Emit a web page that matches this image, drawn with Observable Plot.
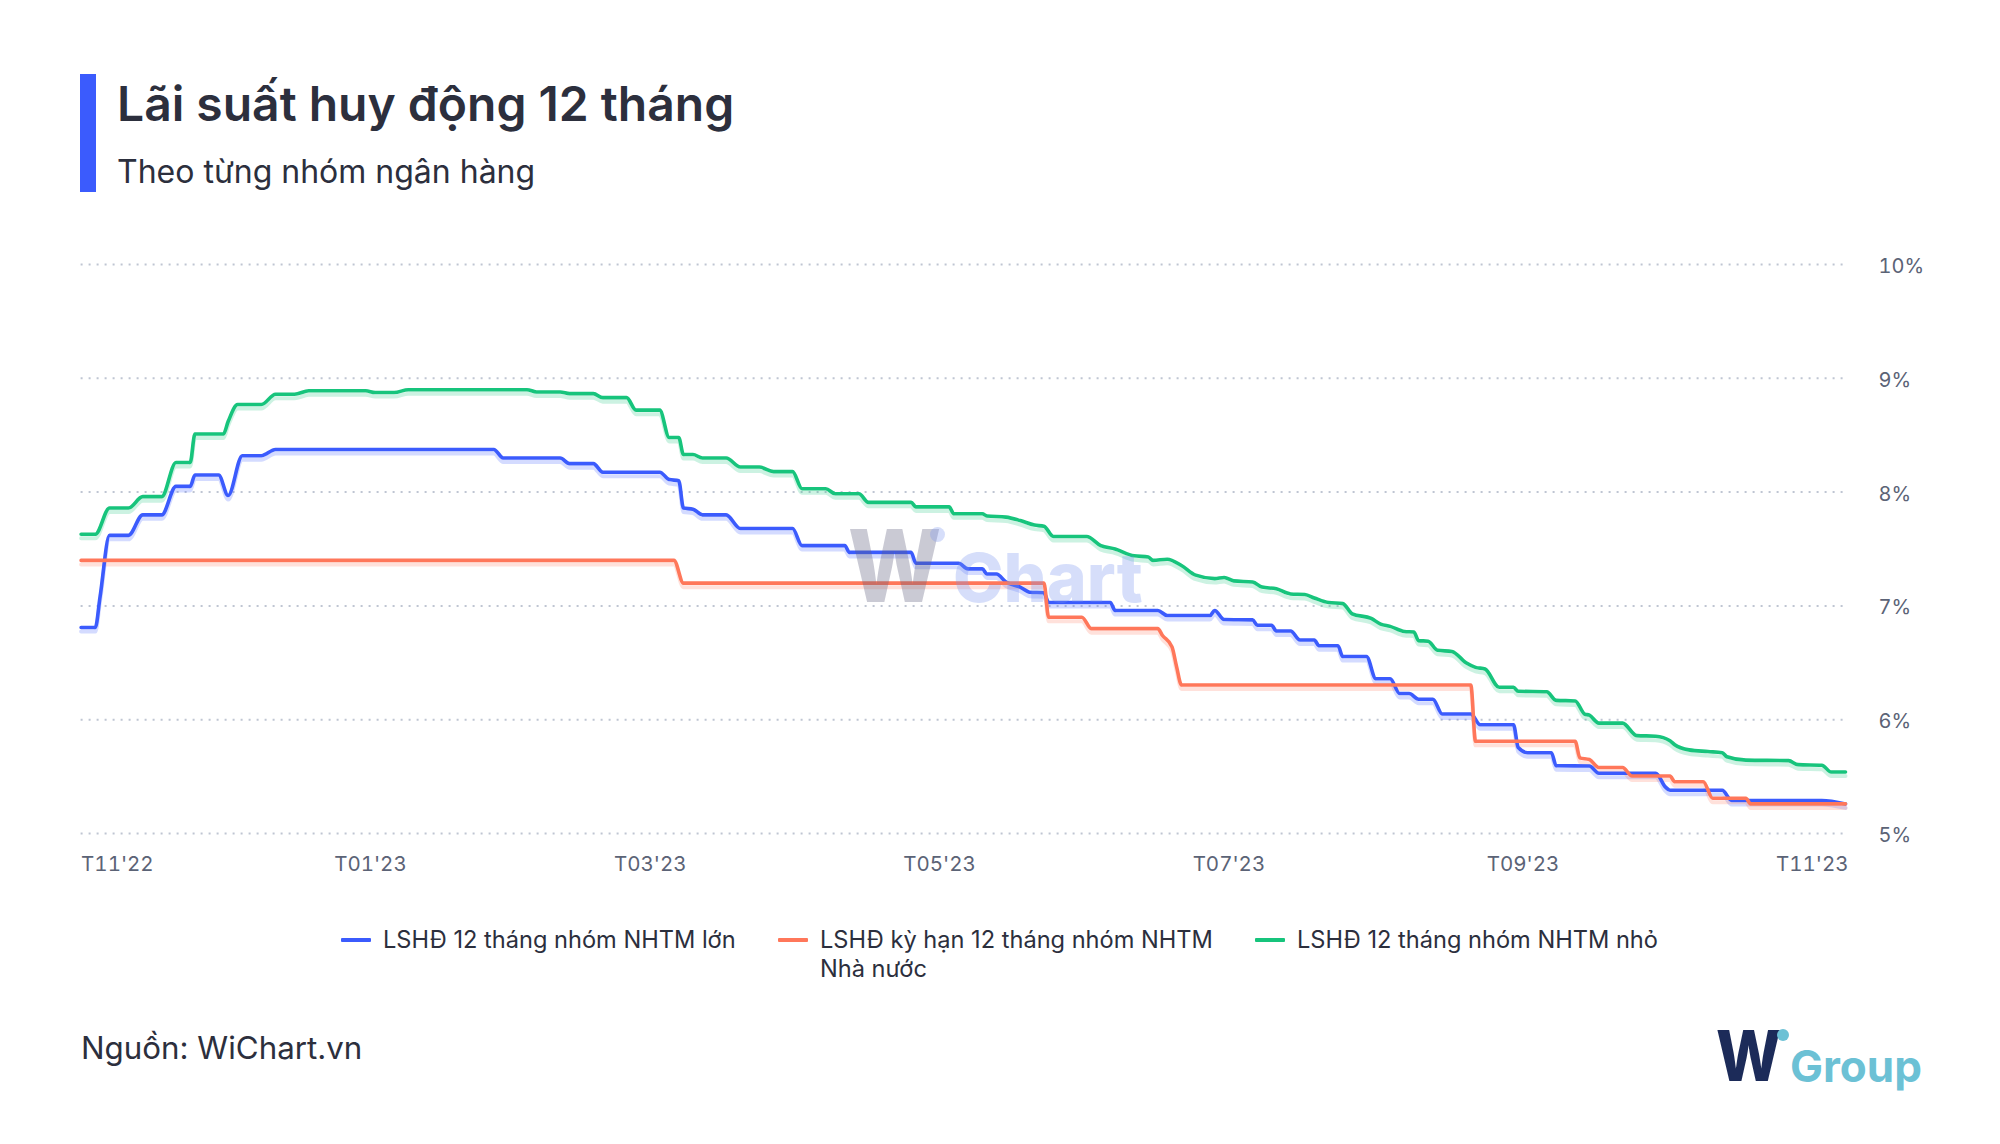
<!DOCTYPE html>
<html>
<head>
<meta charset="utf-8">
<script src="https://cdn.jsdelivr.net/npm/d3@7"></script>
<script src="https://cdn.jsdelivr.net/npm/@observablehq/plot@0.6"></script>
<style>
  html, body { margin: 0; padding: 0; background: #ffffff; }
  body { width: 2000px; height: 1144px; position: relative; overflow: hidden; font-family: Inter, "Noto Sans", sans-serif; }
  .bar { position: absolute; left: 80px; top: 74px; width: 16px; height: 118px; background: #3b5bfd; }
  .title { position: absolute; left: 117px; top: 80px; font-size: 48px; font-weight: 600; line-height: 1; color: #2c2f3d; white-space: nowrap; }
  .subtitle { position: absolute; left: 117px; top: 156px; font-size: 32px; line-height: 1; color: #2c2f3d; white-space: nowrap; }
  #chart { position: absolute; left: 0; top: 230px; }
  .legend-item { position: absolute; top: 925px; display: flex; align-items: flex-start; }
  .legend-item .swatch { width: 30px; height: 4px; margin-top: 13px; margin-right: 12px; border-radius: 1px; }
  .legend-item .txt { font-size: 23.6px; line-height: 29px; color: #2c2f3d; white-space: nowrap; }
  .source { position: absolute; left: 81px; top: 1033px; font-size: 31.3px; line-height: 1; color: #2c2f3d; }
  .wm { position: absolute; pointer-events: none; line-height: 1; font-weight: 800; }
  .logo { position: absolute; line-height: 1; font-weight: 800; }
</style>
</head>
<body>
<div class="bar"></div>
<div class="title">Lãi suất huy động 12 tháng</div>
<div class="subtitle">Theo từng nhóm ngân hàng</div>
<div id="chart"></div>
<div id="legend"></div>
<div class="source">Nguồn: WiChart.vn</div>

<!-- watermark -->
<div class="wm" style="left:848px;top:516px;font-size:100px;color:rgba(95,95,125,0.33);transform:scaleX(0.88);transform-origin:left;">W</div>
<div class="wm" style="left:930px;top:527px;width:15px;height:15px;border-radius:50%;background:rgba(120,145,240,0.3);"></div>
<div class="wm" style="left:953px;top:543px;font-size:68px;color:rgba(120,145,240,0.3);">Chart</div>

<!-- logo -->
<div class="logo" style="left:1716px;top:1021px;font-size:70px;color:#1c2b59;transform:scaleX(0.88);transform-origin:left;">W</div>
<div class="logo" style="left:1777px;top:1029px;width:12px;height:12px;border-radius:50%;background:#6cc1d5;"></div>
<div class="logo" style="left:1790px;top:1044px;font-size:44px;font-weight:700;color:#6cc1d5;">Group</div>

<script>
// ---------- DATA ----------
const seriesNames = [
  "LSHĐ 12 tháng nhóm NHTM lớn",
  "LSHĐ kỳ hạn 12 tháng nhóm NHTM Nhà nước",
  "LSHĐ 12 tháng nhóm NHTM nhỏ"
];
const seriesColors = ["#3b5bfd", "#ff775a", "#17c47c"];

// LSHĐ 12 tháng nhóm NHTM lớn
const bigBanks = [
  ["2022-11-01",6.81],["2022-11-04",6.81],["2022-11-05",7.08],["2022-11-07",7.62],["2022-11-11",7.62],
  ["2022-11-14",7.80],["2022-11-18",7.80],["2022-11-21",8.05],["2022-11-24",8.05],["2022-11-25",8.15],
  ["2022-11-30",8.15],["2022-12-02",7.97],["2022-12-05",8.32],["2022-12-09",8.32],["2022-12-12",8.375],
  ["2023-01-27",8.375],["2023-01-29",8.30],["2023-02-10",8.30],["2023-02-12",8.25],["2023-02-17",8.25],
  ["2023-02-19",8.175],["2023-03-03",8.175],["2023-03-05",8.11],["2023-03-07",8.10],["2023-03-08",7.86],
  ["2023-03-10",7.85],["2023-03-12",7.80],["2023-03-17",7.80],["2023-03-20",7.68],["2023-03-31",7.68],
  ["2023-04-02",7.53],["2023-04-11",7.53],["2023-04-12",7.47],["2023-04-25",7.47],["2023-04-26",7.375],
  ["2023-05-05",7.375],["2023-05-07",7.325],["2023-05-10",7.325],["2023-05-11",7.28],["2023-05-13",7.28],
  ["2023-05-15",7.21],["2023-05-18",7.165],["2023-05-20",7.12],["2023-05-23",7.115],["2023-05-24",7.03],
  ["2023-06-06",7.03],["2023-06-07",6.96],["2023-06-16",6.96],["2023-06-18",6.915],["2023-06-27",6.915],
  ["2023-06-28",6.96],["2023-06-30",6.88],["2023-07-06",6.877],["2023-07-07",6.83],["2023-07-10",6.83],
  ["2023-07-11",6.78],["2023-07-14",6.78],["2023-07-16",6.70],["2023-07-19",6.70],["2023-07-20",6.65],
  ["2023-07-24",6.65],["2023-07-25",6.555],["2023-07-30",6.555],["2023-08-01",6.36],["2023-08-04",6.36],
  ["2023-08-06",6.23],["2023-08-08",6.23],["2023-08-10",6.18],["2023-08-13",6.18],["2023-08-15",6.05],
  ["2023-08-21",6.05],["2023-08-23",5.955],["2023-08-30",5.955],["2023-08-31",5.755],["2023-09-02",5.71],
  ["2023-09-07",5.71],["2023-09-08",5.595],["2023-09-15",5.593],["2023-09-17",5.53],["2023-09-29",5.53],
  ["2023-10-01",5.41],["2023-10-02",5.38],["2023-10-13",5.38],["2023-10-15",5.29],["2023-11-03",5.29],
  ["2023-11-08",5.26]
];

// LSHĐ kỳ hạn 12 tháng nhóm NHTM Nhà nước
const stateBanks = [
  ["2022-11-01",7.40],["2023-03-06",7.40],["2023-03-08",7.20],["2023-05-23",7.20],["2023-05-24",6.90],
  ["2023-05-31",6.90],["2023-06-02",6.80],["2023-06-16",6.80],["2023-06-17",6.74],["2023-06-19",6.64],
  ["2023-06-20",6.46],["2023-06-21",6.305],["2023-08-21",6.305],["2023-08-22",5.81],["2023-09-12",5.81],
  ["2023-09-13",5.665],["2023-09-15",5.65],["2023-09-17",5.58],["2023-09-22",5.58],["2023-09-24",5.505],
  ["2023-10-02",5.505],["2023-10-03",5.455],["2023-10-09",5.455],["2023-10-11",5.31],["2023-10-18",5.31],
  ["2023-10-19",5.26],["2023-11-08",5.26]
];

// LSHĐ 12 tháng nhóm NHTM nhỏ
const smallBanks = [
  ["2022-11-01",7.63],["2022-11-04",7.63],["2022-11-07",7.86],["2022-11-11",7.86],["2022-11-14",7.96],
  ["2022-11-18",7.96],["2022-11-21",8.26],["2022-11-24",8.26],["2022-11-25",8.51],["2022-12-01",8.51],
  ["2022-12-02",8.62],["2022-12-04",8.77],["2022-12-09",8.77],["2022-12-12",8.86],["2022-12-16",8.86],
  ["2022-12-19",8.89],["2022-12-31",8.89],["2023-01-02",8.875],["2023-01-06",8.875],["2023-01-09",8.90],
  ["2023-02-03",8.90],["2023-02-05",8.88],["2023-02-10",8.88],["2023-02-12",8.865],["2023-02-17",8.865],
  ["2023-02-19",8.83],["2023-02-24",8.83],["2023-02-26",8.72],["2023-03-03",8.72],["2023-03-05",8.48],
  ["2023-03-07",8.48],["2023-03-08",8.33],["2023-03-10",8.33],["2023-03-12",8.30],["2023-03-17",8.30],
  ["2023-03-20",8.22],["2023-03-24",8.22],["2023-03-27",8.18],["2023-03-31",8.18],["2023-04-02",8.03],
  ["2023-04-07",8.03],["2023-04-09",7.985],["2023-04-14",7.985],["2023-04-16",7.91],["2023-04-25",7.91],
  ["2023-04-26",7.87],["2023-05-03",7.87],["2023-05-04",7.81],["2023-05-10",7.81],["2023-05-11",7.79],
  ["2023-05-15",7.78],["2023-05-18",7.75],["2023-05-21",7.71],["2023-05-23",7.70],["2023-05-25",7.61],
  ["2023-06-01",7.61],["2023-06-04",7.53],["2023-06-07",7.50],["2023-06-11",7.44],["2023-06-14",7.43],
  ["2023-06-15",7.40],["2023-06-18",7.41],["2023-06-21",7.355],["2023-06-24",7.27],["2023-06-28",7.24],
  ["2023-06-30",7.25],["2023-07-02",7.22],["2023-07-06",7.21],["2023-07-08",7.165],["2023-07-11",7.15],
  ["2023-07-14",7.105],["2023-07-17",7.10],["2023-07-19",7.07],["2023-07-22",7.03],["2023-07-25",7.02],
  ["2023-07-27",6.93],["2023-07-31",6.89],["2023-08-02",6.84],["2023-08-04",6.82],["2023-08-07",6.775],
  ["2023-08-09",6.77],["2023-08-10",6.695],["2023-08-12",6.69],["2023-08-14",6.61],["2023-08-17",6.60],
  ["2023-08-20",6.50],["2023-08-22",6.46],["2023-08-24",6.445],["2023-08-27",6.285],["2023-08-30",6.285],
  ["2023-08-31",6.25],["2023-09-06",6.245],["2023-09-08",6.17],["2023-09-12",6.165],["2023-09-14",6.05],
  ["2023-09-15",6.04],["2023-09-17",5.97],["2023-09-22",5.97],["2023-09-25",5.86],["2023-09-29",5.855],
  ["2023-10-02",5.815],["2023-10-03",5.78],["2023-10-06",5.735],["2023-10-10",5.72],["2023-10-13",5.71],
  ["2023-10-14",5.675],["2023-10-18",5.645],["2023-10-27",5.64],["2023-10-29",5.605],["2023-11-03",5.60],
  ["2023-11-05",5.54],["2023-11-08",5.54]
];

const xTickDates = ["2022-11-01","2023-01-01","2023-03-01","2023-05-01","2023-07-01","2023-09-01","2023-11-01"];
const yTicks = [5, 6, 7, 8, 9, 10];
const xDomain = ["2022-11-01", "2023-11-08"];
const yDomain = [5, 10];

// ---------- BUILD ----------
const allSeries = [bigBanks, stateBanks, smallBanks];
const rows = [];
allSeries.forEach((s, i) => s.forEach(([d, v]) => rows.push({date: new Date(d), value: v, series: seriesNames[i]})));

const fmt = d3.utcFormat("T%m'%y");
const tickDates = xTickDates.map(d => new Date(d));
const axisColor = "#5b6376";

const chart = Plot.plot({
  width: 2000,
  height: 670,
  marginLeft: 80.6,
  marginRight: 155,
  marginTop: 34,
  marginBottom: 67,
  style: {fontFamily: "Inter, 'Noto Sans', sans-serif", background: "transparent", overflow: "visible"},
  x: {type: "utc", domain: xDomain.map(d => new Date(d)), label: null},
  y: {domain: yDomain, label: null},
  color: {domain: seriesNames, range: seriesColors},
  marks: [
    Plot.gridY(yTicks, {stroke: "#bfc5d2", strokeOpacity: 1, strokeWidth: 2, strokeDasharray: "2,6"}),
    Plot.axisY(yTicks, {anchor: "right", tickSize: 0, tickPadding: 33, fontSize: 20, dy: 2, fill: axisColor, tickFormat: d => d + "%"}),
    Plot.axisX(tickDates.slice(0, 1), {anchor: "bottom", tickSize: 0, tickPadding: 23, fontSize: 20.5, fill: axisColor, textAnchor: "start", tickFormat: fmt}),
    Plot.axisX(tickDates.slice(1), {anchor: "bottom", tickSize: 0, tickPadding: 23, fontSize: 20.5, fill: axisColor, tickFormat: fmt}),
    Plot.line(rows, {x: "date", y: "value", z: "series", stroke: "series", strokeWidth: 4, strokeOpacity: 0.22, dy: 4, curve: "monotone-x"}),
    Plot.line(rows, {x: "date", y: "value", z: "series", stroke: "series", strokeWidth: 3.6, curve: "monotone-x"})
  ]
});
document.getElementById("chart").appendChild(chart);

// legend
const legendLefts = [341, 778, 1255];
const legendLabels = ["LSHĐ 12 tháng nhóm NHTM lớn", "LSHĐ kỳ hạn 12 tháng nhóm NHTM<br>Nhà nước", "LSHĐ 12 tháng nhóm NHTM nhỏ"];
const legend = document.getElementById("legend");
seriesNames.forEach((name, i) => {
  const item = document.createElement("div");
  item.className = "legend-item";
  item.style.left = legendLefts[i] + "px";
  item.innerHTML = `<div class="swatch" style="background:${seriesColors[i]}"></div><div class="txt">${legendLabels[i]}</div>`;
  legend.appendChild(item);
});
</script>
</body>
</html>
